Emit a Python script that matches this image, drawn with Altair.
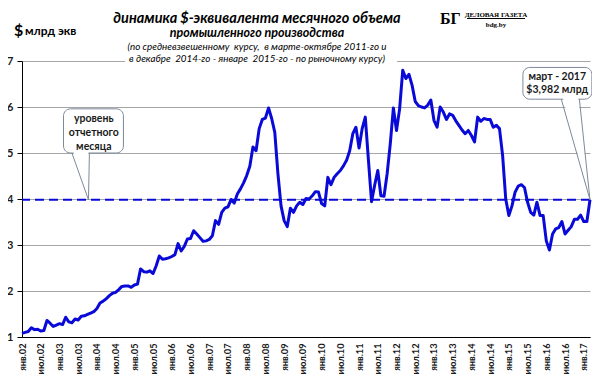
import altair as alt
import pandas as pd

# ---- data, $ bn equivalent, monthly Jan 2002 .. Mar 2017
v2002 = [1.08, 1.10, 1.12, 1.20, 1.16, 1.17, 1.13, 1.14, 1.36, 1.30, 1.23, 1.26]
v2003 = [1.29, 1.27, 1.43, 1.33, 1.31, 1.39, 1.37, 1.45, 1.46, 1.49, 1.52, 1.55]
v2004 = [1.62, 1.74, 1.78, 1.83, 1.90, 1.95, 1.97, 2.03, 2.10, 2.11, 2.11, 2.08]
v2005 = [2.13, 2.15, 2.48, 2.42, 2.41, 2.44, 2.38, 2.55, 2.76, 2.69, 2.70, 2.72]
v2006 = [2.75, 2.79, 3.03, 2.87, 2.97, 3.13, 3.14, 3.31, 3.24, 3.16, 3.08, 3.09]
v2007 = [3.12, 3.20, 3.53, 3.45, 3.71, 3.80, 3.83, 3.99, 3.91, 4.11, 4.22, 4.35]
v2008 = [4.51, 4.71, 5.13, 5.05, 5.53, 5.73, 5.76, 5.98, 5.75, 5.45, 4.55, 3.85]
v2009 = [3.53, 3.40, 3.80, 3.71, 3.85, 3.93, 3.88, 4.01, 4.00, 4.07, 4.16, 4.15]
v2010 = [3.90, 3.85, 4.47, 4.31, 4.47, 4.55, 4.62, 4.72, 4.84, 5.05, 5.42, 5.56]
v2011 = [5.11, 5.53, 5.78, 4.85, 3.94, 4.30, 4.62, 4.07, 4.06, 4.55, 5.20, 5.98]
v2012 = [5.49, 5.96, 6.80, 6.62, 6.71, 6.47, 6.12, 6.03, 6.00, 5.98, 6.04, 6.15]
v2013 = [5.71, 5.56, 6.00, 5.89, 5.73, 5.85, 5.82, 5.70, 5.60, 5.50, 5.42, 5.49]
v2014 = [5.38, 5.24, 5.78, 5.69, 5.75, 5.73, 5.73, 5.56, 5.60, 5.53, 4.95, 4.00]
v2015 = [3.64, 3.85, 4.15, 4.28, 4.31, 4.25, 3.93, 3.71, 3.65, 3.93, 3.64, 3.64]
v2016 = [3.09, 2.89, 3.24, 3.35, 3.38, 3.51, 3.24, 3.32, 3.40, 3.56, 3.56, 3.65]
v2017 = [3.51, 3.51, 3.982]

series = (v2002 + v2003 + v2004 + v2005 + v2006 + v2007 + v2008 + v2009 +
          v2010 + v2011 + v2012 + v2013 + v2014 + v2015 + v2016 + v2017)
month_index = list(range(len(series)))

tick_positions = list(range(0, 181, 6))
tick_labels = ["янв.02", "июл.02", "янв.03", "июл.03", "янв.04", "июл.04",
               "янв.05", "июл.05", "янв.06", "июл.06", "янв.07", "июл.07",
               "янв.08", "июл.08", "янв.09", "июл.09", "янв.10", "июл.10",
               "янв.11", "июл.11", "янв.12", "июл.12", "янв.13", "июл.13",
               "янв.14", "июл.14", "янв.15", "июл.15", "янв.16", "июл.16",
               "янв.17"]
y_ticks = [1, 2, 3, 4, 5, 6, 7]

current_level = 3.982
title_lines = ["динамика $-эквивалента месячного объема",
               "промышленного производства",
               "(по средневзвешенному \u00a0курсу, \u00a0в марте-октябре 2011-го и",
               "в декабре \u00a02014-го - январе \u00a02015-го - по рыночному курсу)"]
unit_label = ["$", "млрд экв"]
level_note = ["уровень", "отчетного", "месяца"]
last_note = ["март - 2017", "$3,982 млрд"]
logo = ["БГ", "ДЕЛОВАЯ ГАЗЕТА", "bdg.by"]

# ---- styling
BLUE = "#0a0ad8"
GRID = "#a6a6a6"
BOX = "#7d8a99"
FONT = "Lato"
LOGO_FONT = "Liberation Serif"

label_expr = "[" + ",".join("'%s'" % t for t in tick_labels) + "][round(datum.value/6)]"
x_scale = alt.Scale(domain=[0, 182], nice=False, zero=False)
y_scale = alt.Scale(domain=[1, 7], nice=False, zero=False)

x_axis = alt.Axis(values=tick_positions, labelExpr=label_expr, labelAngle=-90,
                  ticks=False, grid=False, labelPadding=6, labelFontSize=9.2,
                  labelFont=FONT, labelFontWeight="bold", labelColor="#1a1a1a",
                  labelFlush=False, labelOverlap=False, labelSeparation=0,
                  domainColor="#000000", title=None)
y_axis = alt.Axis(values=y_ticks, grid=True, gridColor=GRID, tickSize=5,
                  tickColor="#000000", domainColor="#000000", labelFontSize=11,
                  labelFont=FONT, labelFontWeight="bold", labelColor="#1a1a1a",
                  labelPadding=4, title=None)


def XE():
    return alt.X("i:Q", scale=x_scale, axis=x_axis)


def YE():
    return alt.Y("v:Q", scale=y_scale, axis=y_axis)


df = pd.DataFrame({"i": month_index, "v": series})
line = alt.Chart(df).mark_line(color=BLUE, strokeWidth=3, strokeJoin="round").encode(
    x=XE(), y=YE())

level_df = pd.DataFrame({"v": [current_level]})
level_rule = alt.Chart(level_df).mark_rule(color=BLUE, strokeWidth=2, strokeDash=[9, 5]).encode(
    y=YE())

# white patch behind the title (hides the top gridline as in the original)
title_patch = alt.Chart(pd.DataFrame({"a": [0]})).mark_rect(fill="white").encode(
    x=alt.value(103), x2=alt.value(375), y=alt.value(-53), y2=alt.value(6))


def text_layer(txt, x, y, size, weight="normal", style="normal", align="center",
               font=FONT, color="#000000", baseline="alphabetic"):
    return alt.Chart(pd.DataFrame({"t": [txt]})).mark_text(
        fontSize=size, fontWeight=weight, fontStyle=style, align=align, font=font,
        color=color, baseline=baseline).encode(x=alt.value(x), y=alt.value(y), text="t:N")


titles = [
    text_layer(title_lines[0], 235, -38, 14.5, "bold", "italic"),
    text_layer(title_lines[1], 235, -24, 12.5, "bold", "italic"),
    text_layer(title_lines[2], 235, -11, 9.8, "normal", "italic"),
    text_layer(title_lines[3], 235, 1, 9.8, "normal", "italic"),
    text_layer(unit_label[0], -8, -25, 16, "bold", align="left"),
    text_layer(unit_label[1], 3, -26, 12, "bold", align="left"),
    text_layer(logo[0], 418, -37, 16, "bold", align="left", font=LOGO_FONT),
    text_layer(logo[1], 474, -44, 7, "bold", align="center", font=LOGO_FONT),
    text_layer(logo[2], 474, -34, 7, "bold", align="center", font=LOGO_FONT),
]
logo_rule = alt.Chart(pd.DataFrame({"a": [0]})).mark_rule(color="#000000", strokeWidth=1).encode(
    x=alt.value(445), x2=alt.value(503), y=alt.value(-42.5))

# ---- callouts (positioned in data units through the chart scales)
boxes_df = pd.DataFrame({"i": [13.3, 160.5], "i2": [32.5, 182.6],
                         "v": [5.0, 6.17], "v2": [5.96, 6.86]})
boxes = alt.Chart(boxes_df).mark_rect(fill="white", stroke=BOX, strokeWidth=1,
                                      cornerRadius=7).encode(
    x=XE(), x2="i2:Q", y=YE(), y2="v2:Q")

ptr_df = pd.DataFrame({
    "g": ["a", "a", "a", "b", "b", "b"],
    "o": [0, 1, 2, 0, 1, 2],
    "i": [16.0, 21.3, 21.6, 172.8, 182.0, 178.6],
    "v": [5.0, current_level, 5.0, 6.17, current_level, 6.17],
})
ptr_fill_df = pd.DataFrame({
    "g": ["a", "a", "a", "b", "b", "b"],
    "o": [0, 1, 2, 0, 1, 2],
    "i": [16.4, 21.3, 21.3, 173.3, 182.0, 178.2],
    "v": [5.03, current_level, 5.03, 6.20, current_level, 6.20],
})
ptr_fill = alt.Chart(ptr_fill_df).mark_line(fill="white", strokeOpacity=0,
                                            interpolate="linear-closed").encode(
    x=XE(), y=YE(), detail="g:N", order="o:Q")
ptr_line = alt.Chart(ptr_df).mark_line(color=BOX, strokeWidth=1).encode(
    x=XE(), y=YE(), detail="g:N", order="o:Q")

note_df = pd.DataFrame({
    "t": level_note + last_note,
    "i": [23.0, 23.0, 23.0, 171.5, 171.5],
    "v": [5.73, 5.43, 5.13, 6.66, 6.37],
})
notes = alt.Chart(note_df).mark_text(font=FONT, fontSize=10.5, fontWeight="bold",
                                     color="#1a1a1a", baseline="middle").encode(
    x=XE(), y=YE(), text="t:N")

chart = alt.layer(
    line, title_patch, level_rule, boxes, ptr_fill, ptr_line, notes, logo_rule, *titles
).properties(
    width=568, height=276,
    autosize=alt.AutoSizeParams(type="none"),
    padding={"left": 14, "top": 53, "right": 2, "bottom": 40},
    background="white",
).configure_view(stroke=None)

chart.save("out.html", embed_options={"renderer": "svg", "actions": False})
